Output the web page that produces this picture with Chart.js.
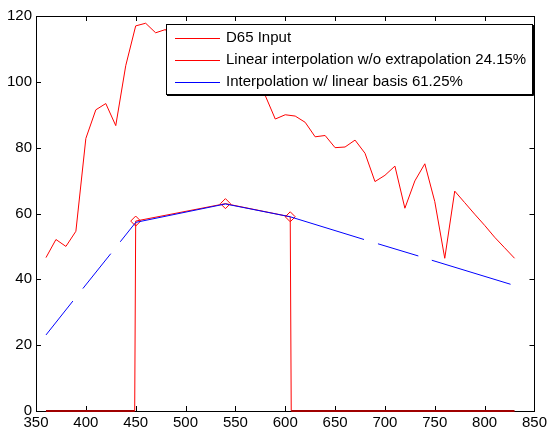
<!DOCTYPE html>
<html>
<head>
<meta charset="utf-8">
<script src="https://cdn.jsdelivr.net/npm/chart.js@4/dist/chart.umd.min.js"></script>
<style>
    html, body { margin: 0; padding: 0; background: #fff; }
    #wrap { width: 550px; height: 432px; }
</style>
</head>
<body>
<div id="wrap"><canvas id="spectrumChart"></canvas></div>
<script>
// D65 input, sampled every 10 nm
const wavelengths = [360, 370, 380, 390, 400, 410, 420, 430, 440, 450, 460, 470, 480, 490,
    500, 510, 520, 530, 540, 550, 560, 570, 580, 590, 600, 610, 620, 630, 640, 650, 660,
    670, 680, 690, 700, 710, 720, 730, 740, 750, 760, 770, 780, 790, 800, 810, 820, 830];
const d65Values = [46.6, 52.1, 50.0, 54.6, 82.8, 91.5, 93.4, 86.7, 104.9, 117.0, 117.8, 114.9,
    115.9, 108.8, 109.4, 107.8, 104.8, 107.7, 104.4, 104.0, 100.0, 96.3, 95.8, 88.7, 90.0,
    89.6, 87.7, 83.3, 83.7, 80.0, 80.2, 82.3, 78.3, 69.7, 71.6, 74.4, 61.6, 69.9, 75.1, 63.6,
    46.4, 66.8, 63.3, 59.8, 56.4, 52.8, 49.6, 46.4];

// linear interpolation w/o extrapolation (zero outside the sampled range)
const linearX = [360, 449, 450, 540, 605, 606, 830];
const linearY = [0, 0, 57.7, 63.0, 59.0, 0, 0];
const sampleX = [450, 540, 605];

// interpolation w/ linear basis (null = break in the drawn line)
const basisX = [360, 387, 392, 397, 425, 430, 434.5, 450, 540, 605, 679, 686, 693, 733.5, 740, 747, 826];
const basisY = [23.1, 33.4, null, 37.2, 47.8, null, 51.4, 57.3, 62.9, 59.0, 52.1, null, 50.8, 47.1, null, 45.8, 38.5];

const seriesLabels = ['D65 Input', 'Linear interpolation w/o extrapolation 24.15%', 'Interpolation w/ linear basis 61.25%'];
const seriesColors = ['#ff0000', '#ff0000', '#0000ff'];

const FONT = '"Liberation Sans", Arial, Helvetica, sans-serif';

function toPoints(xs, ys) {
    return xs.map((x, i) => ({ x: x, y: ys[i] }));
}

// Box round the axes with ticks pointing inward, on all four sides
const framePlugin = {
    id: 'frame',
    beforeDatasetsDraw(chart) {
        const { ctx, chartArea: a, scales } = chart;
        const len = 5;
        ctx.save();
        ctx.strokeStyle = '#000';
        ctx.lineWidth = 1;
        ctx.beginPath();
        scales.x.ticks.forEach(t => {
            const px = Math.round(scales.x.getPixelForValue(t.value)) + 0.5;
            ctx.moveTo(px, a.bottom); ctx.lineTo(px, a.bottom - len);
            ctx.moveTo(px, a.top); ctx.lineTo(px, a.top + len);
        });
        scales.y.ticks.forEach(t => {
            const py = Math.round(scales.y.getPixelForValue(t.value)) + 0.5;
            ctx.moveTo(a.left, py); ctx.lineTo(a.left + len, py);
            ctx.moveTo(a.right, py); ctx.lineTo(a.right - len, py);
        });
        ctx.stroke();
        ctx.strokeRect(Math.round(a.left) + 0.5, Math.round(a.top) + 0.5,
            Math.round(a.right - a.left), Math.round(a.bottom - a.top));
        ctx.restore();
    }
};

// MATLAB style legend box in the upper right of the axes
const boxLegendPlugin = {
    id: 'boxLegend',
    afterDraw(chart) {
        const { ctx, chartArea: a } = chart;
        const x = a.left + 130, y = a.top + 8, w = 366, h = 70;
        ctx.save();
        ctx.fillStyle = '#fff';
        ctx.fillRect(x, y, w, h);
        ctx.strokeStyle = '#000';
        ctx.lineWidth = 1;
        ctx.strokeRect(x + 0.5, y + 0.5, w, h);
        ctx.beginPath();
        ctx.moveTo(x + 1, y + h + 1.5); ctx.lineTo(x + w + 1.5, y + h + 1.5);
        ctx.lineTo(x + w + 1.5, y + 1);
        ctx.stroke();
        ctx.font = '15px ' + FONT;
        ctx.textBaseline = 'middle';
        chart.data.datasets.forEach((ds, i) => {
            const ry = y + 14 + i * 22;
            ctx.strokeStyle = ds.borderColor;
            ctx.beginPath();
            ctx.moveTo(x + 9, ry + 0.5);
            ctx.lineTo(x + 54, ry + 0.5);
            ctx.stroke();
            ctx.fillStyle = '#000';
            ctx.fillText(ds.label, x + 60, ry);
        });
        ctx.restore();
    }
};

new Chart(document.getElementById('spectrumChart'), {
    type: 'line',
    data: {
        datasets: [{
            label: seriesLabels[0],
            data: toPoints(wavelengths, d65Values),
            borderColor: seriesColors[0],
            borderWidth: 1,
            pointRadius: 0,
            order: 2
        }, {
            label: seriesLabels[1],
            data: toPoints(linearX, linearY),
            borderColor: seriesColors[1],
            borderWidth: 1,
            clip: false,
            pointStyle: 'rectRot',
            pointRadius: ctx => (ctx.raw && sampleX.includes(ctx.raw.x)) ? 5 : 0,
            pointBorderColor: seriesColors[1],
            pointBackgroundColor: 'rgba(0,0,0,0)',
            pointBorderWidth: 1,
            segment: {
                borderColor: ctx => (ctx.p0.parsed.y === 0 && ctx.p1.parsed.y === 0) ? '#a00000' : undefined,
                borderWidth: ctx => (ctx.p0.parsed.y === 0 && ctx.p1.parsed.y === 0) ? 2 : undefined
            },
            order: 1
        }, {
            label: seriesLabels[2],
            data: toPoints(basisX, basisY),
            borderColor: seriesColors[2],
            borderWidth: 1,
            pointRadius: 0,
            spanGaps: false,
            order: 0
        }]
    },
    options: {
        responsive: true,
        maintainAspectRatio: false,
        animation: false,
        devicePixelRatio: 1,
        layout: { padding: { top: 16, right: 13, left: 0, bottom: 0 } },
        elements: { line: { tension: 0 } },
        plugins: {
            legend: { display: false },
            tooltip: { enabled: false }
        },
        scales: {
            x: {
                type: 'linear',
                min: 350,
                max: 850,
                grid: { display: false, drawTicks: false },
                border: { display: false },
                ticks: {
                    stepSize: 50,
                    autoSkip: false,
                    maxRotation: 0,
                    padding: 3,
                    color: '#000',
                    font: { family: FONT, size: 15 }
                },
                afterFit: scale => { scale.height = 21; }
            },
            y: {
                min: 0,
                max: 120,
                grid: { display: false, drawTicks: false },
                border: { display: false },
                ticks: {
                    stepSize: 20,
                    autoSkip: false,
                    padding: 4,
                    color: '#000',
                    font: { family: FONT, size: 15 }
                },
                afterFit: scale => { scale.width = 36; }
            }
        }
    },
    plugins: [framePlugin, boxLegendPlugin]
});
</script>
</body>
</html>
